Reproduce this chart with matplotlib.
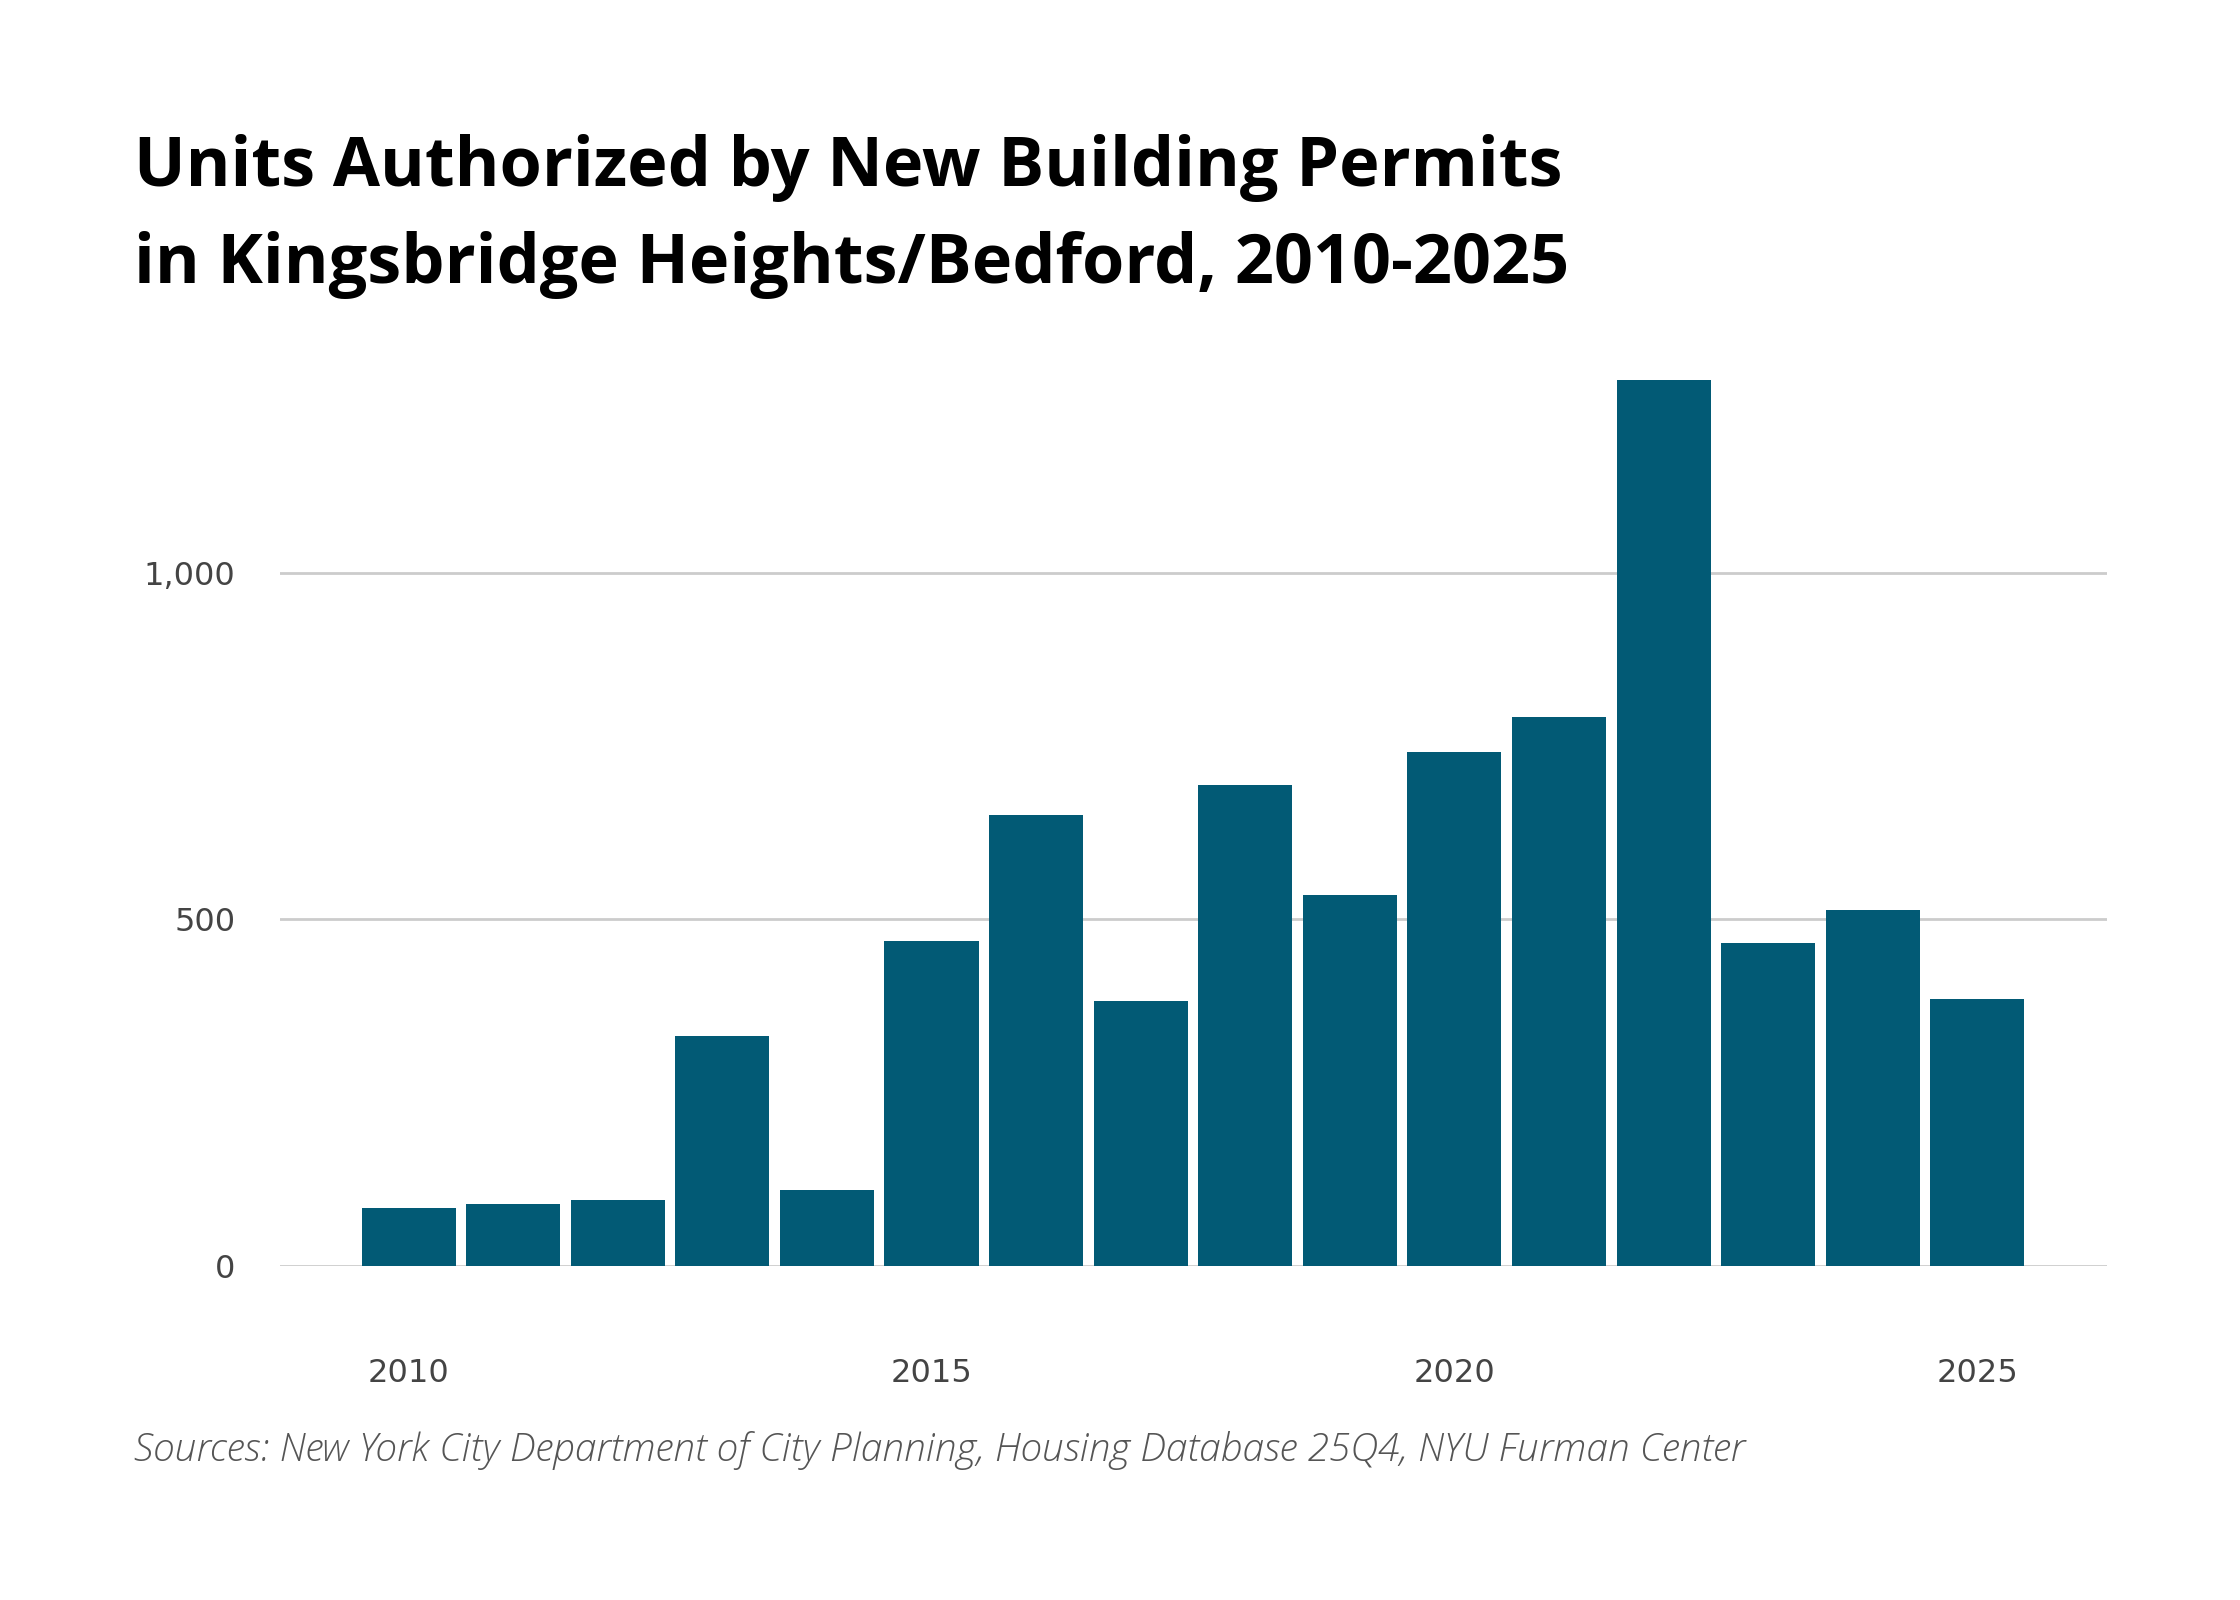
import numpy as np
import matplotlib.pyplot as plt

years = np.arange(2010, 2026)
units = [83, 90, 95, 332, 110, 469, 651, 383, 694, 535, 742, 792, 1278, 466, 514, 385]
yticks = [0, 500, 1000]
ytick_labels = ['0', '500', '1,000']
xticks = [2010, 2015, 2020, 2025]

title = 'Units Authorized by New Building Permits\nin Kingsbridge Heights/Bedford, 2010-2025'
source = 'Sources: New York City Department of City Planning, Housing Database 25Q4, NYU Furman Center'

W, H = 2240, 1600
fig = plt.figure(figsize=(11.2, 8), dpi=200)

# axes placed in pixel coords of the reference
left, right, bottom, top = 280, 2107, 1266, 365
ax = fig.add_axes([left / W, 1 - bottom / H, (right - left) / W, (bottom - top) / H])

ax.bar(years, units, width=0.9, color='#025a75', zorder=2)
ax.set_xlim(2008.77, 2026.24)
ax.set_ylim(0, 1300)

ax.set_yticks(yticks)
ax.set_yticklabels(ytick_labels)
ax.set_xticks(xticks)
ax.grid(axis='y', color='#cccccc', linewidth=1.0, zorder=1)
for s in ax.spines.values():
    s.set_visible(False)
ax.tick_params(axis='both', length=0, labelsize=11.5, labelcolor='#444444')
ax.tick_params(axis='y', pad=16)
ax.tick_params(axis='x', pad=33)
for lab in ax.get_xticklabels() + ax.get_yticklabels():
    lab.set_family('DejaVu Sans')

fig.text(134 / W, 1 - 134 / H, title, ha='left', va='top', fontsize=24.6,
         fontweight='bold', family='Open Sans', color='black', linespacing=1.55)
fig.text(134 / W, 1 - 1451 / H, source, ha='left', va='center', fontsize=14,
         style='italic', fontweight='light', family='Open Sans', color='#555555')

fig.savefig('out.png', dpi=200, facecolor='white')
